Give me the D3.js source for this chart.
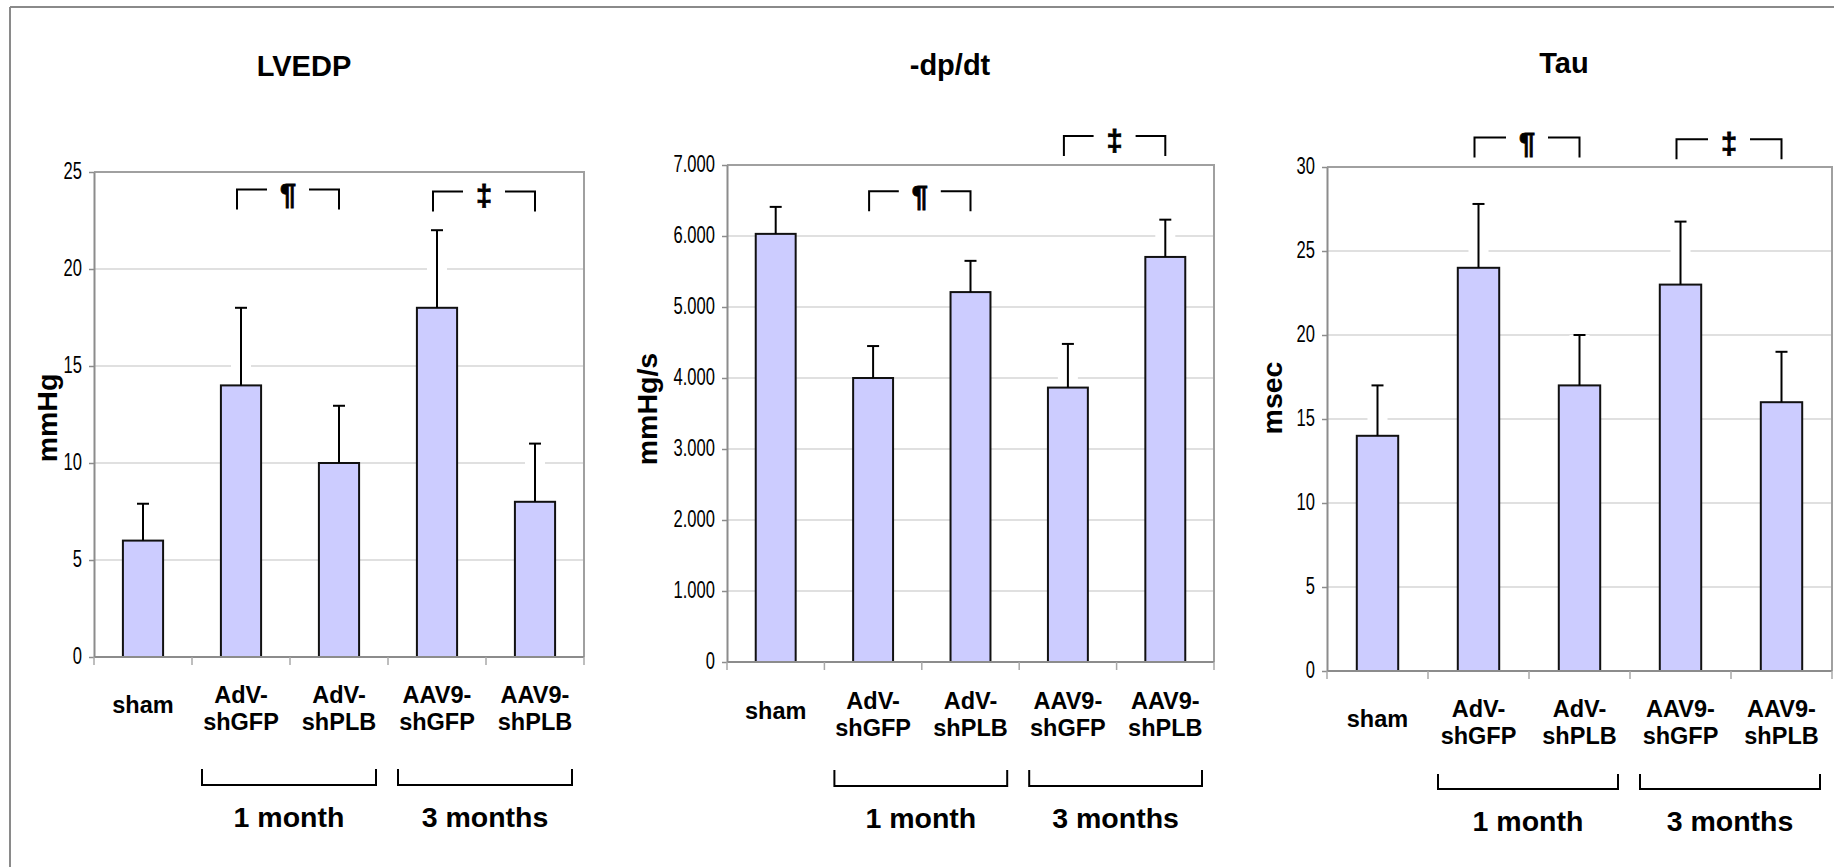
<!DOCTYPE html>
<html>
<head>
<meta charset="utf-8">
<script src="https://cdn.jsdelivr.net/npm/d3@7"></script>
<style>
  body { margin: 0; background: #fff; }
  svg text { font-family: "Liberation Sans", Arial, Helvetica, sans-serif; }
</style>
</head>
<body>
<svg id="chart" width="1834" height="867"></svg>
<script>
// ---- data ----
const groups = ["sham", "AdV-shGFP", "AdV-shPLB", "AAV9-shGFP", "AAV9-shPLB"];
const groupLines = [["sham"], ["AdV-", "shGFP"], ["AdV-", "shPLB"], ["AAV9-", "shGFP"], ["AAV9-", "shPLB"]];
const periods = ["1 month", "3 months"];
const periodMembers = [["AdV-shGFP", "AdV-shPLB"], ["AAV9-shGFP", "AAV9-shPLB"]];

const lvedpMean = [6, 14, 10, 18, 8];
const lvedpSem = [1.9, 4, 2.95, 4, 3];
const lvedpTicks = [0, 5, 10, 15, 20, 25];

const dpdtMean = [6030, 4000, 5210, 3865, 5705];
const dpdtSem = [380, 450, 440, 615, 525];
const dpdtTicks = [0, 1000, 2000, 3000, 4000, 5000, 6000, 7000];

const tauMean = [14, 24, 17, 23, 16];
const tauSem = [3, 3.8, 3, 3.75, 3];
const tauTicks = [0, 5, 10, 15, 20, 25, 30];

// significance brackets: [from, to, symbol, level in axis units]
const lvedpSig = [["AdV-shGFP", "AdV-shPLB", "¶", 24.1], ["AAV9-shGFP", "AAV9-shPLB", "‡", 24.0]];
const dpdtSig = [["AdV-shGFP", "AdV-shPLB", "¶", 6630], ["AAV9-shGFP", "AAV9-shPLB", "‡", 7410]];
const tauSig = [["AdV-shGFP", "AdV-shPLB", "¶", 31.75], ["AAV9-shGFP", "AAV9-shPLB", "‡", 31.65]];

// ---- layout ----
const panels = [
    { title: "LVEDP", unit: "mmHg", mean: lvedpMean, sem: lvedpSem, ticks: lvedpTicks, sig: lvedpSig,
      left: 94, right: 584, top: 172, bottom: 657, titleX: 304, titleY: 76, unitX: 47, unitY: 418,
      labY: 703, bracketY: 769, bracketB: 785, periodY: 827 },
    { title: "-dp/dt", unit: "mmHg/s", mean: dpdtMean, sem: dpdtSem, ticks: dpdtTicks, sig: dpdtSig,
      left: 727, right: 1214, top: 165, bottom: 662, titleX: 950, titleY: 75, unitX: 647, unitY: 409,
      labY: 709, bracketY: 770, bracketB: 786, periodY: 828 },
    { title: "Tau", unit: "msec", mean: tauMean, sem: tauSem, ticks: tauTicks, sig: tauSig,
      left: 1327, right: 1832, top: 167, bottom: 671, titleX: 1564, titleY: 73, unitX: 1272, unitY: 398,
      labY: 717, bracketY: 774, bracketB: 789, periodY: 831 }
];

const svg = d3.select("#chart");

// outer frame (top and left edges only are visible)
svg.append("line").attr("x1", 10).attr("y1", 7).attr("x2", 1834).attr("y2", 7)
    .attr("stroke", "#8a8a8a").attr("stroke-width", 2);
svg.append("line").attr("x1", 10).attr("y1", 7).attr("x2", 10).attr("y2", 867)
    .attr("stroke", "#8a8a8a").attr("stroke-width", 2);

const dotLocale = d3.formatLocale({ decimal: ",", thousands: ".", grouping: [3], currency: ["", ""] });
const fmtDot = dotLocale.format(",");

panels.forEach(p => {
    const g = svg.append("g");

    const x = d3.scaleBand().domain(groups).range([p.left, p.right]).padding(0);
    const y = d3.scaleLinear().domain([0, d3.max(p.ticks)]).range([p.bottom, p.top]);
    const barW = x.bandwidth() * 0.41;
    const cx = d => x(d) + x.bandwidth() / 2;

    // gridlines
    g.append("g").selectAll("line").data(p.ticks.slice(1, -1)).enter().append("line")
        .attr("x1", p.left).attr("x2", p.right)
        .attr("y1", d => y(d)).attr("y2", d => y(d))
        .attr("stroke", "#d6d6d6").attr("stroke-width", 1.5);

    // top / right frame of plot area
    g.append("path")
        .attr("d", `M${p.left},${y(d3.max(p.ticks))}H${p.right}V${p.bottom}`)
        .attr("fill", "none").attr("stroke", "#a0a0a0").attr("stroke-width", 2);

    // y axis
    const yAxis = g.append("g").attr("transform", `translate(${p.left},0)`)
        .call(d3.axisLeft(y).tickValues(p.ticks).tickSize(5).tickSizeOuter(0)
            .tickFormat(d => p.title === "-dp/dt" ? fmtDot(d) : d));
    yAxis.select(".domain").attr("stroke", "#8c8c8c").attr("stroke-width", 2);
    yAxis.selectAll(".tick line").attr("stroke", "#8c8c8c").attr("stroke-width", 1.5);
    yAxis.selectAll(".tick text")
        .attr("x", null).attr("dy", "0.3em")
        .attr("transform", "translate(-12,0) scale(0.72,1)")
        .attr("fill", "#000")
        .style("font-size", "23px")
        .style("font-family", "'Liberation Sans', Arial, sans-serif");

    // white halo behind error lines (gaps in gridlines)
    g.append("g").selectAll("rect").data(groups).enter().append("rect")
        .attr("x", d => cx(d) - 10).attr("width", 20)
        .attr("y", (d, i) => y(p.mean[i] + p.sem[i]))
        .attr("height", (d, i) => y(p.mean[i]) - y(p.mean[i] + p.sem[i]))
        .attr("fill", "#fff");

    // bars
    g.append("g").selectAll("rect").data(groups).enter().append("rect")
        .attr("x", d => cx(d) - barW / 2).attr("width", barW)
        .attr("y", (d, i) => y(p.mean[i]))
        .attr("height", (d, i) => y(0) - y(p.mean[i]))
        .attr("fill", "#ccccff").attr("stroke", "#111").attr("stroke-width", 2);

    // error bars (upper only)
    const eb = g.append("g").attr("stroke", "#000").attr("stroke-width", 2);
    groups.forEach((d, i) => {
        const top = y(p.mean[i] + p.sem[i]);
        eb.append("line").attr("x1", cx(d)).attr("x2", cx(d)).attr("y1", y(p.mean[i])).attr("y2", top);
        eb.append("line").attr("x1", cx(d) - 6).attr("x2", cx(d) + 6).attr("y1", top).attr("y2", top);
    });

    // x axis line + ticks at band edges
    g.append("line").attr("x1", p.left).attr("x2", p.right).attr("y1", y(0)).attr("y2", y(0))
        .attr("stroke", "#8c8c8c").attr("stroke-width", 2);
    const edges = groups.map(d => x(d)).concat([p.right]);
    g.append("g").selectAll("line").data(edges).enter().append("line")
        .attr("x1", d => d).attr("x2", d => d).attr("y1", y(0)).attr("y2", y(0) + 8)
        .attr("stroke", "#a8a8a8").attr("stroke-width", 1.5);

    // category labels
    groups.forEach((d, i) => {
        const lines = groupLines[i];
        const t = g.append("text").attr("text-anchor", "middle")
            .style("font-size", "23.5px").style("font-weight", "bold");
        if (lines.length === 1) {
            t.attr("x", cx(d)).attr("y", p.labY + 10).text(lines[0]);
        } else {
            lines.forEach((s, k) => {
                t.append("tspan").attr("x", cx(d)).attr("y", p.labY + k * 27).text(s);
            });
        }
    });

    // period brackets and labels
    periods.forEach((name, k) => {
        const [a, b] = periodMembers[k];
        const x0 = x(a) + 10, x1 = x(b) + x.bandwidth() - 12;
        g.append("path")
            .attr("d", `M${x0},${p.bracketY}V${p.bracketB}H${x1}V${p.bracketY}`)
            .attr("fill", "none").attr("stroke", "#000").attr("stroke-width", 2);
        g.append("text").attr("x", (x0 + x1) / 2).attr("y", p.periodY)
            .attr("text-anchor", "middle")
            .style("font-size", "28.5px").style("font-weight", "bold")
            .text(name);
    });

    // significance brackets
    p.sig.forEach(([a, b, sym, lvl]) => {
        const x0 = cx(a) - 4, x1 = cx(b);
        const yt = y(lvl), mid = (x0 + x1) / 2;
        g.append("path")
            .attr("d", `M${x0},${yt + 20}V${yt}H${mid - 21}M${mid + 21},${yt}H${x1}V${yt + 20}`)
            .attr("fill", "none").attr("stroke", "#000").attr("stroke-width", 2);
        g.append("text").attr("x", mid).attr("y", yt + 15)
            .attr("text-anchor", "middle")
            .attr("stroke", "#000").attr("stroke-width", 0.8)
            .style("font-size", "29px").style("font-weight", "bold")
            .text(sym);
    });

    // title
    svg.append("text").attr("x", p.titleX).attr("y", p.titleY)
        .attr("text-anchor", "middle")
        .style("font-size", "29px").style("font-weight", "bold")
        .text(p.title);

    // unit label
    svg.append("text")
        .attr("transform", `translate(${p.unitX},${p.unitY}) rotate(-90)`)
        .attr("text-anchor", "middle").attr("dy", "0.35em")
        .style("font-size", "28.5px").style("font-weight", "bold")
        .text(p.unit);
});
</script>
</body>
</html>
